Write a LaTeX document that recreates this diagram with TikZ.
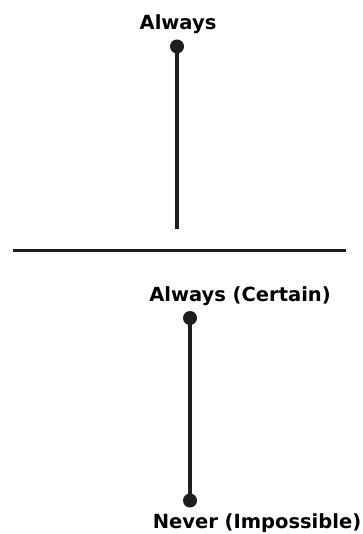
\documentclass[tikz,border=0pt]{standalone}
\usepackage{fontspec}
\setmainfont{DejaVu Sans}
\usepackage{tikz}
\usetikzlibrary{positioning}
\definecolor{LineColor}{RGB}{30,30,30}
\tikzset{
  pin dot/.style={circle, fill=LineColor, inner sep=0pt, minimum size=14pt},
  scale label/.style={font=\fontsize{19.5}{22}\selectfont\bfseries, text=black, inner sep=0pt}
}
\begin{document}
\begin{tikzpicture}[x=1pt, y=-1pt, line cap=butt]
      \useasboundingbox (0,0) rectangle (362,534);
      % top scale, one end only
      \node[pin dot] (topdot) at (177,46.5) {};
      \coordinate (topend) at (177,229);
      \node[scale label] (always) at (178,24) {Always};
      \draw[LineColor, line width=4pt] (topdot.center) -- (topend);
      % divider
      \coordinate (divl) at (13,250.5);
      \coordinate (divr) at (346,250.5);
      \draw[LineColor, line width=3pt] (divl) -- (divr);
      % bottom scale
      \node[scale label] (certain) at (240,296) {Always (Certain)};
      \node[pin dot] (certdot) at (190,318) {};
      \node[pin dot] (impdot) at (190,500.5) {};
      \node[scale label] (never) at (257,523) {Never (Impossible)};
      \draw[LineColor, line width=4pt] (certdot.center) -- (impdot.center);
    \end{tikzpicture}
\end{document}
